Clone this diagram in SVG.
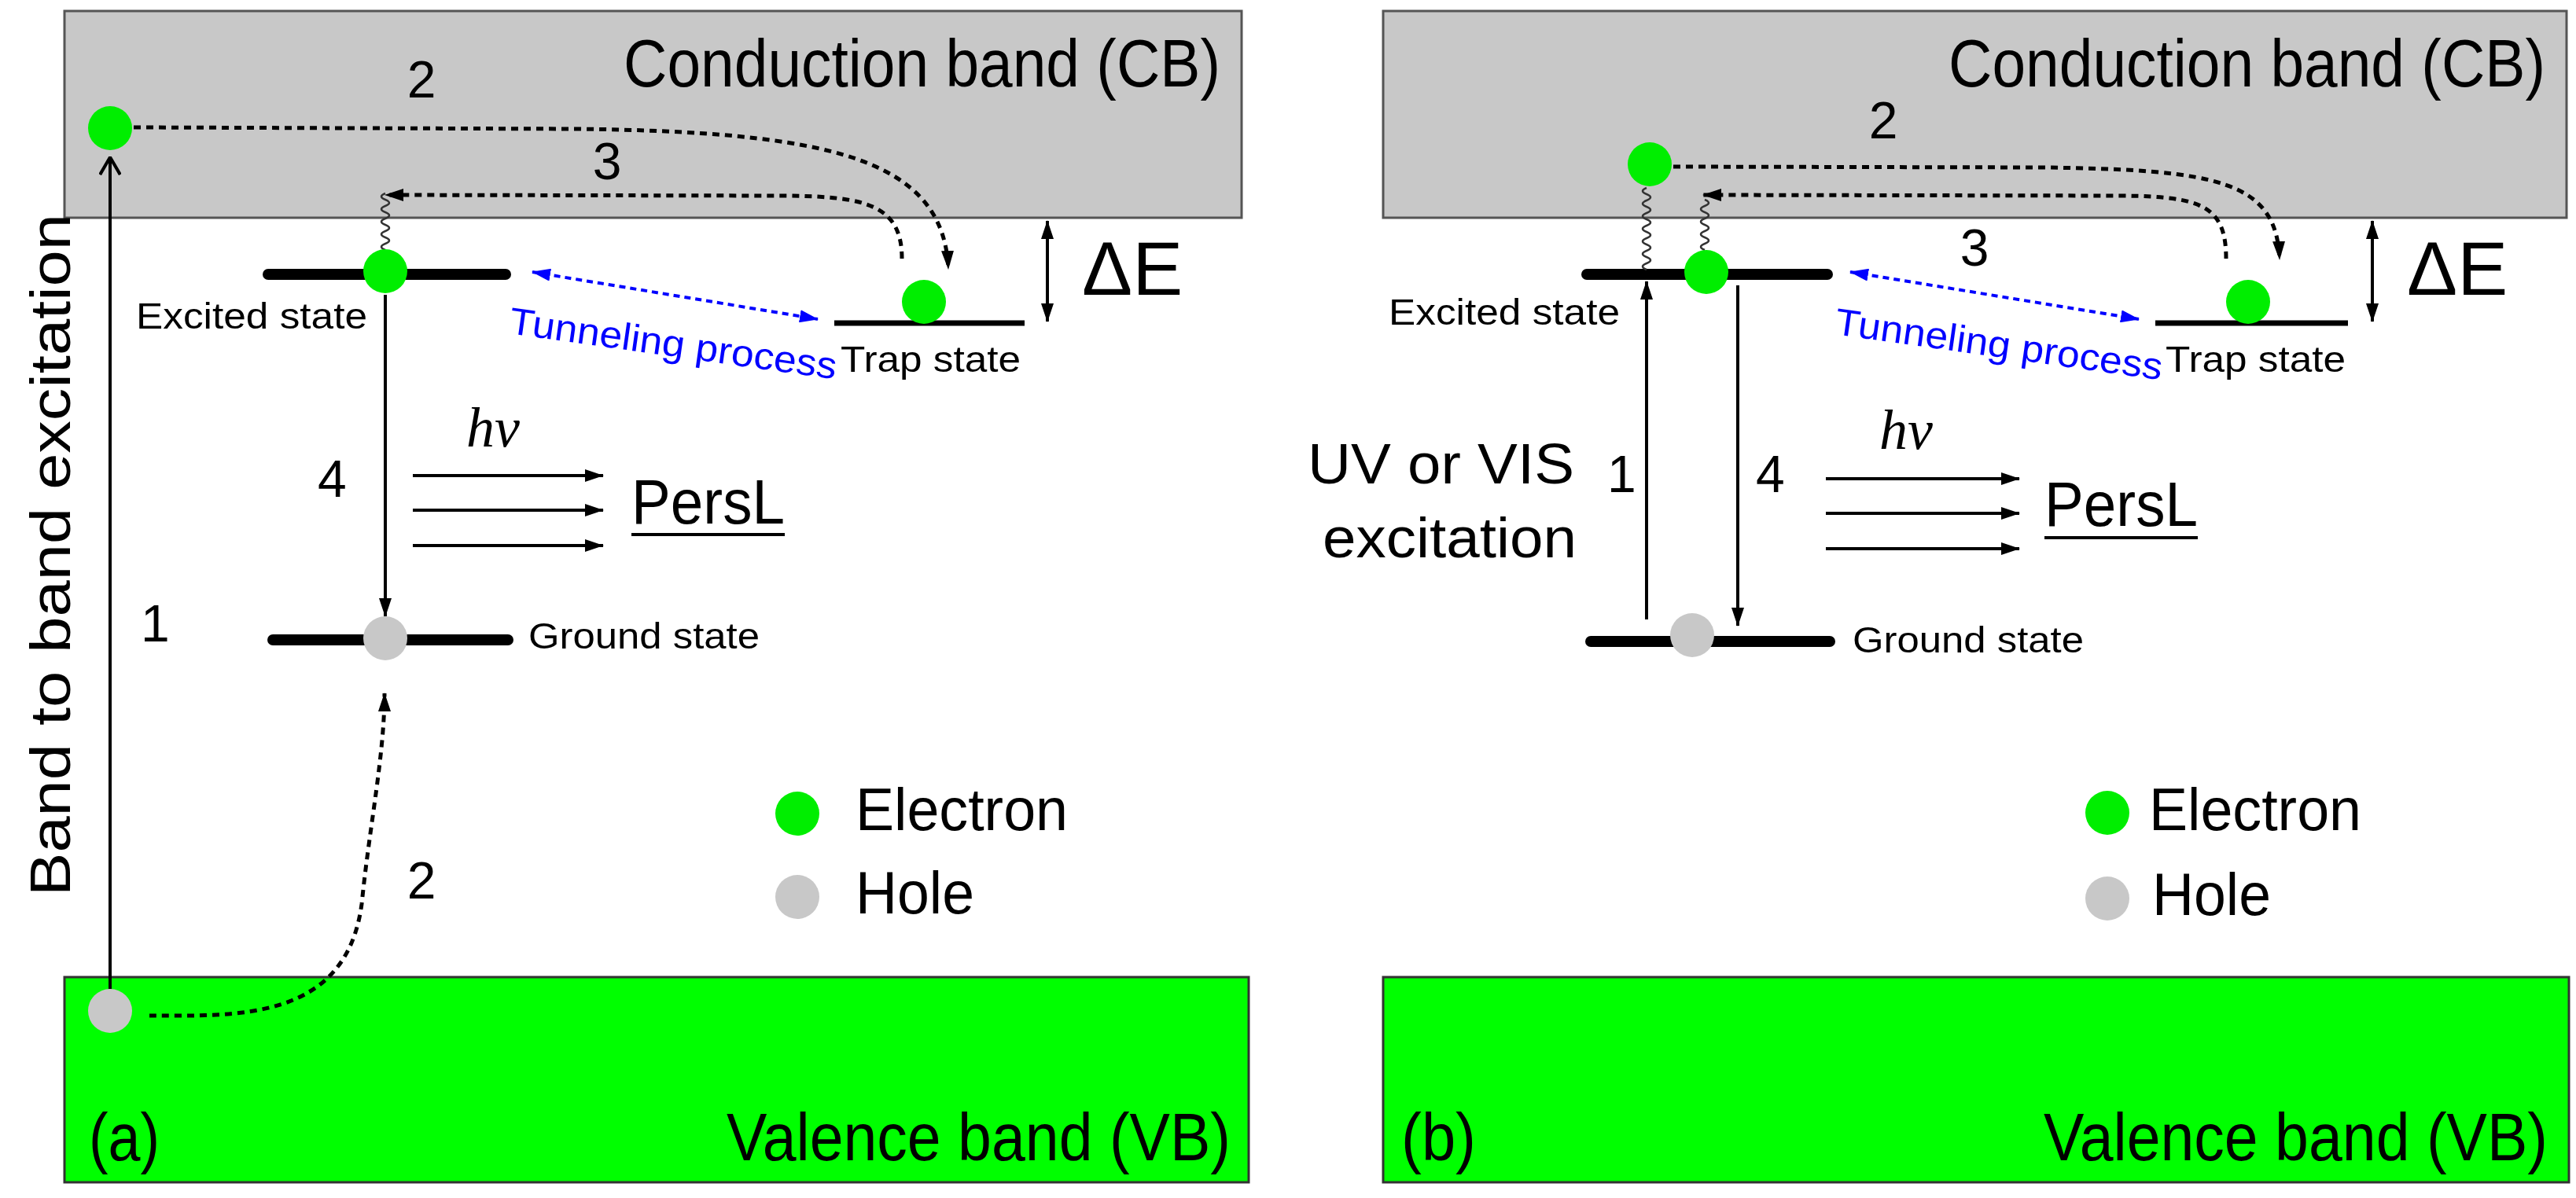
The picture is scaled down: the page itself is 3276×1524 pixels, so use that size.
<svg xmlns="http://www.w3.org/2000/svg" width="3276" height="1524" viewBox="0 0 3276 1524">
<style>
text{font-family:"Liberation Sans",Arial,sans-serif;fill:#000}
.cb{fill:#c8c8c8;stroke:#555;stroke-width:3}
.vb{fill:#00ff00;stroke:#333;stroke-width:3}
.lvl{stroke:#000;stroke-width:14;stroke-linecap:round}
.trap{stroke:#000;stroke-width:7}
.el{fill:#00ee00}
.ho{fill:#c8c8c8}
.sol{stroke:#000;stroke-width:4;fill:none}
.dash{stroke:#000;stroke-width:5;fill:none;stroke-dasharray:9 7}
.bdash{stroke:#0000ff;stroke-width:4;fill:none;stroke-dasharray:8 6}
.wig{stroke:#333;stroke-width:2.5;fill:none}
.big{font-size:86px}
.num{font-size:66px}
.sm{font-size:46px}
.hv{font-family:"Liberation Serif",serif;font-style:italic;font-size:72px}
</style>
<defs>
<marker id="ah" viewBox="0 0 24 16" refX="23" refY="8" markerWidth="24" markerHeight="16" markerUnits="userSpaceOnUse" orient="auto-start-reverse"><path d="M0,0 L24,8 L0,16 Z" fill="#000"/></marker>
<marker id="ahb" viewBox="0 0 24 16" refX="23" refY="8" markerWidth="24" markerHeight="16" markerUnits="userSpaceOnUse" orient="auto-start-reverse"><path d="M0,0 L24,8 L0,16 Z" fill="#0000ff"/></marker>
<marker id="aho" viewBox="0 0 20 24" refX="19" refY="12" markerWidth="24" markerHeight="28" markerUnits="userSpaceOnUse" orient="auto"><path d="M0,1 L19,12 L0,23" fill="none" stroke="#000" stroke-width="3.5"/></marker>
</defs>

<!-- Panel (a) -->
<g id="cb-a"><rect class="cb" x="82" y="14" width="1497" height="263"/><text class="big" x="1552" y="110" text-anchor="end" textLength="759" lengthAdjust="spacingAndGlyphs">Conduction band (CB)</text></g>
<g id="vb-a"><rect class="vb" x="82" y="1243" width="1506" height="261"/><text class="big" x="113" y="1476" textLength="90" lengthAdjust="spacingAndGlyphs">(a)</text><text class="big" x="1565" y="1476" text-anchor="end" textLength="641" lengthAdjust="spacingAndGlyphs">Valence band (VB)</text></g>
<g id="excited-a"><line class="lvl" x1="341" y1="349" x2="643" y2="349"/><text class="sm" x="173" y="418" textLength="294" lengthAdjust="spacingAndGlyphs">Excited state</text></g>
<g id="ground-a"><line class="lvl" x1="347" y1="814" x2="646" y2="814"/><text class="sm" x="672" y="825" textLength="294" lengthAdjust="spacingAndGlyphs">Ground state</text></g>
<g id="trap-a"><line class="trap" x1="1061" y1="411" x2="1303" y2="411"/><text class="sm" x="1069" y="473" textLength="229" lengthAdjust="spacingAndGlyphs">Trap state</text></g>

<g id="connectors-a">
<path class="wig" d="M490,318 q-10,-4 0,-8 q10,-4 0,-8 q-10,-4 0,-8 q10,-4 0,-8 q-10,-4 0,-8 q10,-4 0,-8 q-10,-4 0,-8 q10,-4 0,-8 q-10,-4 0,-8"/>
<line class="sol" x1="140" y1="1258" x2="140" y2="200" marker-end="url(#aho)"/>
<path class="dash" d="M170,162 L735,164 C1050,168 1200,200 1206,342" marker-end="url(#ah)"/>
<path class="dash" d="M1147,329 C1147,260 1100,250 1000,249 L490,248" marker-end="url(#ah)"/>
<line class="sol" x1="490" y1="375" x2="490" y2="784" marker-end="url(#ah)"/>
<path class="dash" d="M190,1292 C300,1292 440,1300 460,1150 C470,1050 489,960 489,882" marker-end="url(#ah)"/>
<line class="bdash" x1="677" y1="346" x2="1040" y2="406" marker-start="url(#ahb)" marker-end="url(#ahb)"/>
<line class="sol" x1="1332" y1="281" x2="1332" y2="409" marker-start="url(#ah)" marker-end="url(#ah)"/>
<line class="sol" x1="525" y1="605" x2="767" y2="605" marker-end="url(#ah)"/>
<line class="sol" x1="525" y1="649" x2="767" y2="649" marker-end="url(#ah)"/>
<line class="sol" x1="525" y1="694" x2="767" y2="694" marker-end="url(#ah)"/>
</g>

<g id="particles-a">
<circle class="el" cx="140" cy="163" r="28"/>
<circle class="el" cx="490" cy="345" r="28"/>
<circle class="el" cx="1175" cy="384" r="28"/>
<circle class="ho" cx="490" cy="812" r="28"/>
<circle class="ho" cx="140" cy="1286" r="28"/>
</g>

<g id="labels-a">
<text class="num" x="536" y="124" text-anchor="middle">2</text>
<text class="num" x="772" y="228" text-anchor="middle">3</text>
<text class="num" x="404" y="632">4</text>
<text class="num" x="179" y="816">1</text>
<text class="num" x="536" y="1143" text-anchor="middle">2</text>
<text x="1376" y="375" style="font-size:96px">ΔE</text>
<text style="font-size:48px;fill:#0000ff" transform="translate(646,424) rotate(8)" textLength="420" lengthAdjust="spacingAndGlyphs">Tunneling process</text>
<text class="hv" x="593" y="568">hν</text>
<text x="803" y="666" style="font-size:80px" textLength="195" lengthAdjust="spacingAndGlyphs">PersL</text>
<line x1="803" y1="680" x2="998" y2="680" stroke="#000" stroke-width="4"/>
<text style="font-size:72px" transform="translate(89,1140) rotate(-90)" textLength="868" lengthAdjust="spacingAndGlyphs">Band to band excitation</text>
</g>
<g id="legend-a">
<circle class="el" cx="1014" cy="1035" r="28"/><text style="font-size:76px" x="1088" y="1056" textLength="270" lengthAdjust="spacingAndGlyphs">Electron</text>
<circle class="ho" cx="1014" cy="1141" r="28"/><text style="font-size:76px" x="1088" y="1162" textLength="151" lengthAdjust="spacingAndGlyphs">Hole</text>
</g>

<!-- Panel (b) -->
<g id="cb-b"><rect class="cb" x="1759" y="14" width="1505" height="263"/><text class="big" x="3237" y="110" text-anchor="end" textLength="759" lengthAdjust="spacingAndGlyphs">Conduction band (CB)</text></g>
<g id="vb-b"><rect class="vb" x="1759" y="1243" width="1508" height="261"/><text class="big" x="1782" y="1476" textLength="95" lengthAdjust="spacingAndGlyphs">(b)</text><text class="big" x="3240" y="1476" text-anchor="end" textLength="641" lengthAdjust="spacingAndGlyphs">Valence band (VB)</text></g>
<g id="excited-b"><line class="lvl" x1="2018" y1="349" x2="2324" y2="349"/><text class="sm" x="1766" y="413" textLength="294" lengthAdjust="spacingAndGlyphs">Excited state</text></g>
<g id="ground-b"><line class="lvl" x1="2023" y1="816" x2="2327" y2="816"/><text class="sm" x="2356" y="830" textLength="294" lengthAdjust="spacingAndGlyphs">Ground state</text></g>
<g id="trap-b"><line class="trap" x1="2741" y1="411" x2="2986" y2="411"/><text class="sm" x="2754" y="473" textLength="229" lengthAdjust="spacingAndGlyphs">Trap state</text></g>

<g id="connectors-b">
<path class="wig" d="M2094,343 q-10,-4 0,-8 q10,-4 0,-8 q-10,-4 0,-8 q10,-4 0,-8 q-10,-4 0,-8 q10,-4 0,-8 q-10,-4 0,-8 q10,-4 0,-8 q-10,-4 0,-8 q10,-4 0,-8 q-10,-4 0,-8 q10,-4 0,-8 q-10,-4 0,-8"/>
<path class="wig" d="M2168,318 q-10,-4 0,-8 q10,-4 0,-8 q-10,-4 0,-8 q10,-4 0,-8 q-10,-4 0,-8 q10,-4 0,-8 q-10,-4 0,-8 q10,-4 0,-8"/>
<path class="dash" d="M2128,212 L2600,213 C2820,216 2895,230 2899,330" marker-end="url(#ah)"/>
<path class="dash" d="M2831,329 C2831,262 2800,250 2700,249 L2166,248" marker-end="url(#ah)"/>
<line class="sol" x1="2094" y1="788" x2="2094" y2="358" marker-end="url(#ah)"/>
<line class="sol" x1="2210" y1="363" x2="2210" y2="796" marker-end="url(#ah)"/>
<line class="bdash" x1="2353" y1="346" x2="2720" y2="406" marker-start="url(#ahb)" marker-end="url(#ahb)"/>
<line class="sol" x1="3017" y1="281" x2="3017" y2="409" marker-start="url(#ah)" marker-end="url(#ah)"/>
<line class="sol" x1="2322" y1="609" x2="2568" y2="609" marker-end="url(#ah)"/>
<line class="sol" x1="2322" y1="653" x2="2568" y2="653" marker-end="url(#ah)"/>
<line class="sol" x1="2322" y1="698" x2="2568" y2="698" marker-end="url(#ah)"/>
</g>

<g id="particles-b">
<circle class="el" cx="2098" cy="209" r="28"/>
<circle class="el" cx="2170" cy="346" r="28"/>
<circle class="el" cx="2859" cy="384" r="28"/>
<circle class="ho" cx="2152" cy="808" r="28"/>
</g>

<g id="labels-b">
<text class="num" x="2395" y="176" text-anchor="middle">2</text>
<text class="num" x="2511" y="338" text-anchor="middle">3</text>
<text class="num" x="2044" y="626">1</text>
<text class="num" x="2233" y="626">4</text>
<text x="3061" y="375" style="font-size:96px">ΔE</text>
<text style="font-size:48px;fill:#0000ff" transform="translate(2332,425) rotate(8)" textLength="420" lengthAdjust="spacingAndGlyphs">Tunneling process</text>
<text class="hv" x="2390" y="571">hν</text>
<text x="2600" y="669" style="font-size:80px" textLength="195" lengthAdjust="spacingAndGlyphs">PersL</text>
<line x1="2600" y1="684" x2="2795" y2="684" stroke="#000" stroke-width="4"/>
<text style="font-size:72px" x="1663" y="615" textLength="339" lengthAdjust="spacingAndGlyphs">UV or VIS</text>
<text style="font-size:72px" x="1682" y="709" textLength="323" lengthAdjust="spacingAndGlyphs">excitation</text>
</g>
<g id="legend-b">
<circle class="el" cx="2680" cy="1034" r="28"/><text style="font-size:76px" x="2733" y="1056" textLength="270" lengthAdjust="spacingAndGlyphs">Electron</text>
<circle class="ho" cx="2680" cy="1143" r="28"/><text style="font-size:76px" x="2737" y="1164" textLength="151" lengthAdjust="spacingAndGlyphs">Hole</text>
</g>
</svg>
